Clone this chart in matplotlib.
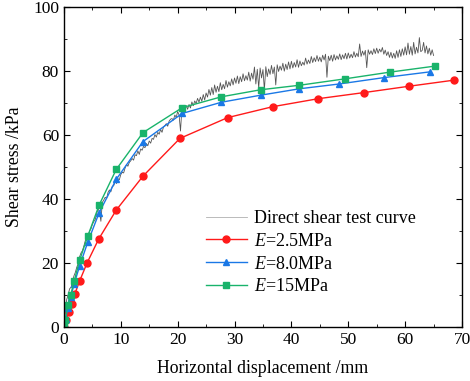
import numpy as np
import matplotlib.pyplot as plt
from matplotlib.ticker import MultipleLocator

plt.rcParams['font.family'] = ['Liberation Serif', 'DejaVu Serif']
plt.rcParams['mathtext.fontset'] = 'custom'
plt.rcParams['mathtext.it'] = 'Liberation Serif:italic'
plt.rcParams['mathtext.rm'] = 'Liberation Serif'

# direct shear test curve, every 0.25 mm (one row = 5 mm)
test_step = 0.25
test_y = [
    0.0, 5.2, 8.6, 10.1, 11.9, 12.4, 13.8, 15.9, 17.0, 18.6, 19.8, 21.9, 23.1, 23.8, 25.2, 26.9, 27.8, 28.4, 29.9, 30.6,
    32.0, 32.9, 33.5, 35.4, 36.8, 36.1, 33.0, 38.9, 39.6, 40.5, 40.1, 42.0, 42.8, 42.2, 43.9, 44.1, 45.4, 44.8, 46.3, 46.0,
    47.6, 48.3, 48.1, 49.6, 50.7, 50.2, 51.4, 51.9, 52.6, 52.1, 53.8, 53.5, 55.0, 53.9, 55.6, 55.2, 56.4, 56.0, 57.3, 56.6,
    58.1, 57.4, 58.9, 58.6, 60.1, 59.3, 60.8, 60.2, 61.7, 60.8, 62.4, 62.9, 63.5, 62.7, 64.3, 64.9, 65.1, 64.6, 66.2, 65.5,
    67.3, 66.2, 61.2, 68.4, 68.1, 67.3, 69.2, 68.0, 69.5, 68.4, 70.3, 69.1, 70.6, 69.8, 71.4, 70.2, 71.8, 70.5, 72.6, 70.9,
    73.1, 71.8, 74.2, 72.4, 74.8, 72.6, 75.6, 73.3, 75.2, 73.5, 76.3, 74.1, 75.8, 74.4, 77.0, 74.9, 76.6, 75.3, 77.5, 75.6,
    77.8, 76.1, 78.4, 76.0, 78.2, 76.6, 79.1, 76.9, 78.5, 77.1, 79.6, 76.8, 79.3, 77.4, 81.2, 75.9, 80.5, 74.6, 80.9, 77.8,
    80.4, 74.0, 81.3, 78.2, 80.6, 78.9, 81.7, 79.1, 81.2, 75.6, 81.9, 79.8, 81.5, 80.2, 82.4, 79.9, 82.1, 80.4, 82.8, 80.6,
    83.0, 80.9, 82.6, 81.2, 83.5, 81.1, 83.1, 81.6, 82.7, 81.8, 84.0, 82.1, 83.4, 82.3, 84.5, 82.6, 84.1, 82.9, 84.8, 83.0,
    84.3, 82.8, 84.9, 83.4, 85.2, 78.0, 84.6, 83.2, 84.9, 83.0, 85.1, 83.4, 84.7, 83.6, 85.3, 83.5, 85.0, 83.8, 85.5, 83.7,
    85.6, 84.0, 85.2, 84.1, 86.0, 84.3, 85.5, 84.4, 88.4, 84.5, 86.2, 84.9, 86.4, 81.0, 86.6, 85.2, 86.3, 85.1, 86.9, 85.4,
    87.1, 85.5, 86.8, 85.9, 87.3, 85.2, 86.5, 84.8, 86.0, 84.2, 85.8, 84.0, 85.5, 83.9, 86.3, 84.2, 86.6, 84.5, 86.9, 84.9,
    87.5, 85.0, 88.7, 85.2, 87.6, 84.9, 88.9, 85.3, 87.4, 85.6, 90.4, 86.0, 86.4, 88.9, 85.6, 87.8, 85.3, 87.1, 84.9, 86.6,
    84.8,
]
test_x = np.arange(len(test_y)) * test_step

# E = 2.5 MPa
red_x = [0.0, 0.4, 0.9, 1.35, 1.9, 2.75, 4.1, 6.1, 9.2, 13.9, 20.4, 28.8, 36.7, 44.7,
         52.7, 60.7, 68.6]
red_y = [0.0, 2.3, 4.7, 7.1, 10.2, 14.3, 20.1, 27.4, 36.5, 47.1, 58.9, 65.4, 68.8, 71.3,
         73.2, 75.2, 77.1]

# E = 8.0 MPa
blue_x = [0.0, 0.3, 0.65, 1.2, 1.8, 2.75, 4.2, 6.2, 9.2, 13.9, 20.8, 27.7, 34.6, 41.4,
          48.4, 56.3, 64.4]
blue_y = [0.0, 2.5, 5.8, 9.4, 13.4, 19.0, 26.5, 35.7, 46.1, 57.9, 66.7, 70.2, 72.4, 74.4,
          75.9, 77.9, 79.7]

# E = 15 MPa
green_x = [0.0, 0.25, 0.65, 1.2, 1.8, 2.75, 4.2, 6.2, 9.2, 13.9, 20.8, 27.7, 34.6, 41.4,
           49.4, 57.3, 65.3]
green_y = [0.0, 2.3, 6.7, 10.0, 14.3, 20.8, 28.4, 38.1, 49.2, 60.7, 68.5, 71.9, 74.1, 75.5,
           77.5, 79.6, 81.5]

fig = plt.figure(figsize=(4.7, 3.81), dpi=100)
ax = fig.add_axes([0.136, 0.142, 0.847, 0.840])

ax.plot(test_x, test_y, color='#555555', lw=0.6, label='Direct shear test curve')
ax.plot(red_x, red_y, color='#ff1a1a', lw=1.0, marker='o', ms=5,
        label='$E$=2.5MPa')
ax.plot(blue_x, blue_y, color='#1a78e6', lw=1.0, marker='^', ms=5,
        label='$E$=8.0MPa')
ax.plot(green_x, green_y, color='#19b36b', lw=1.0, marker='s', ms=4.5,
        label='$E$=15MPa')

ax.set_xlim(0, 70)
ax.set_ylim(0, 100)
ax.xaxis.set_major_locator(MultipleLocator(10))
ax.xaxis.set_minor_locator(MultipleLocator(5))
ax.yaxis.set_major_locator(MultipleLocator(20))
ax.yaxis.set_minor_locator(MultipleLocator(10))
ax.tick_params(which='both', direction='in', top=True, right=True, labelsize=12.5)
ax.tick_params(which='major', length=4)
ax.tick_params(which='minor', length=2.5)
for s in ax.spines.values():
    s.set_linewidth(1.0)

ax.set_xlabel('Horizontal displacement /mm', fontsize=12.8, labelpad=9)
ax.set_ylabel('Shear stress /kPa', fontsize=12.8, labelpad=7)

leg = ax.legend(loc='lower left', bbox_to_anchor=(0.315, 0.048), frameon=False,
                fontsize=13, handlelength=2.3, handletextpad=0.4, labelspacing=0.32)
leg.get_lines()[0].set_color('#b0b0b0')

fig.savefig('out.png', dpi=100)
